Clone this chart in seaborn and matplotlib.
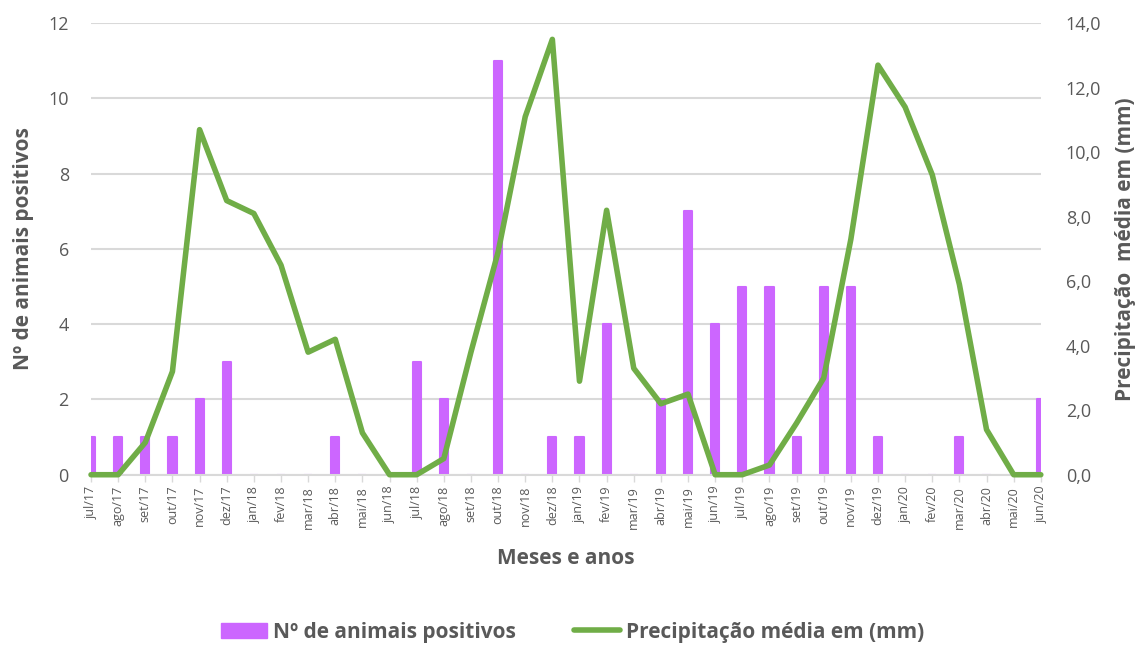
import numpy as np
import pandas as pd
import matplotlib
matplotlib.use("Agg")
import matplotlib.pyplot as plt
import seaborn as sns
from matplotlib.patches import Patch
from matplotlib.lines import Line2D

meses = ["jul/17", "ago/17", "set/17", "out/17", "nov/17", "dez/17",
         "jan/18", "fev/18", "mar/18", "abr/18", "mai/18", "jun/18",
         "jul/18", "ago/18", "set/18", "out/18", "nov/18", "dez/18",
         "jan/19", "fev/19", "mar/19", "abr/19", "mai/19", "jun/19",
         "jul/19", "ago/19", "set/19", "out/19", "nov/19", "dez/19",
         "jan/20", "fev/20", "mar/20", "abr/20", "mai/20", "jun/20"]

animais_positivos = [1, 1, 1, 1, 2, 3,
                     0, 0, 0, 1, 0, 0,
                     3, 2, 0, 11, 0, 1,
                     1, 4, 0, 2, 7, 4,
                     5, 5, 1, 5, 5, 1,
                     0, 0, 1, 0, 0, 2]

precipitacao = [0.0, 0.0, 1.0, 3.2, 10.7, 8.5,
                8.1, 6.5, 3.8, 4.2, 1.3, 0.0,
                0.0, 0.5, 3.8, 6.9, 11.1, 13.5,
                2.9, 8.2, 3.3, 2.2, 2.5, 0.0,
                0.0, 0.3, 1.6, 3.0, 7.3, 12.7,
                11.4, 9.3, 5.9, 1.4, 0.0, 0.0]

left_ticks = [0, 2, 4, 6, 8, 10, 12]
right_ticks = [0, 2, 4, 6, 8, 10, 12, 14]

roxo = "#CC66FF"
verde = "#70AD47"
cinza = "#595959"
grade = "#D9D9D9"

sns.set_theme(style="white")
plt.rcParams["font.family"] = ["Open Sans", "DejaVu Sans"]

df = pd.DataFrame({"mes": meses,
                   "pos": np.arange(len(meses)),
                   "animais": animais_positivos,
                   "chuva": precipitacao})

fig = plt.figure(figsize=(11.45, 6.45), dpi=100)
ax = fig.add_axes([0.0795, 0.264, 0.8295, 0.700])

sns.barplot(data=df, x="pos", y="animais", color=roxo, width=0.3,
            saturation=1, ax=ax, native_scale=True, zorder=2)
for p in ax.patches:
    p.set_edgecolor(roxo)
    p.set_linewidth(1.5)
    p.set_joinstyle("round")
    p.set_clip_on(True)

ax.set_xlim(0, len(meses) - 1)
ax.set_ylim(0, 12)
ax.set_yticks(left_ticks)
ax.set_yticklabels([str(t) for t in left_ticks], fontsize=13, color=cinza)
ax.set_xticks(df["pos"])
ax.set_xticklabels(meses, rotation=90, fontsize=9, color=cinza)
ax.yaxis.grid(True, color=grade, linewidth=1.5, zorder=0)
ax.set_axisbelow(True)
for s in ["top", "right", "left"]:
    ax.spines[s].set_visible(False)
ax.spines["bottom"].set_color(grade)
ax.spines["bottom"].set_linewidth(1.5)
ax.tick_params(axis="x", bottom=True, length=5, color=grade, width=1, pad=3)
ax.tick_params(axis="y", left=False, right=False, length=0, pad=16)
ax.set_xlabel("Meses e anos", fontsize=15, fontweight="bold", color=cinza, labelpad=14)
ax.set_ylabel("Nº de animais positivos", fontsize=15, fontweight="bold", color=cinza, labelpad=10)

ax2 = ax.twinx()
sns.lineplot(data=df, x="pos", y="chuva", color=verde, linewidth=4,
             ax=ax2, zorder=3, clip_on=False)
ax2.set_ylim(0, 14)
ax2.set_xlim(0, len(meses) - 1)
ax2.set_yticks(right_ticks)
ax2.set_yticklabels([f"{t:.1f}".replace(".", ",") for t in right_ticks],
                    fontsize=13, color=cinza)
ax2.tick_params(axis="y", left=False, right=False, length=0, pad=18)
ax2.grid(False)
for s in ["top", "right", "left", "bottom"]:
    ax2.spines[s].set_visible(False)
ax2.set_xlabel("")
ax2.set_ylabel("Precipitação  média em (mm)", fontsize=15, fontweight="bold",
               color=cinza, labelpad=10)

handles = [Patch(facecolor=roxo, edgecolor=roxo),
           Line2D([0], [0], color=verde, linewidth=4)]
fig.legend(handles, ["Nº de animais positivos", "Precipitação média em (mm)"],
           loc="center", bbox_to_anchor=(0.5, 0.02), ncol=2, frameon=False,
           prop={"size": 15, "weight": "bold"}, labelcolor=cinza,
           handlelength=2.2, handletextpad=0.3, columnspacing=2.8)

fig.savefig("out.png", dpi=100)
